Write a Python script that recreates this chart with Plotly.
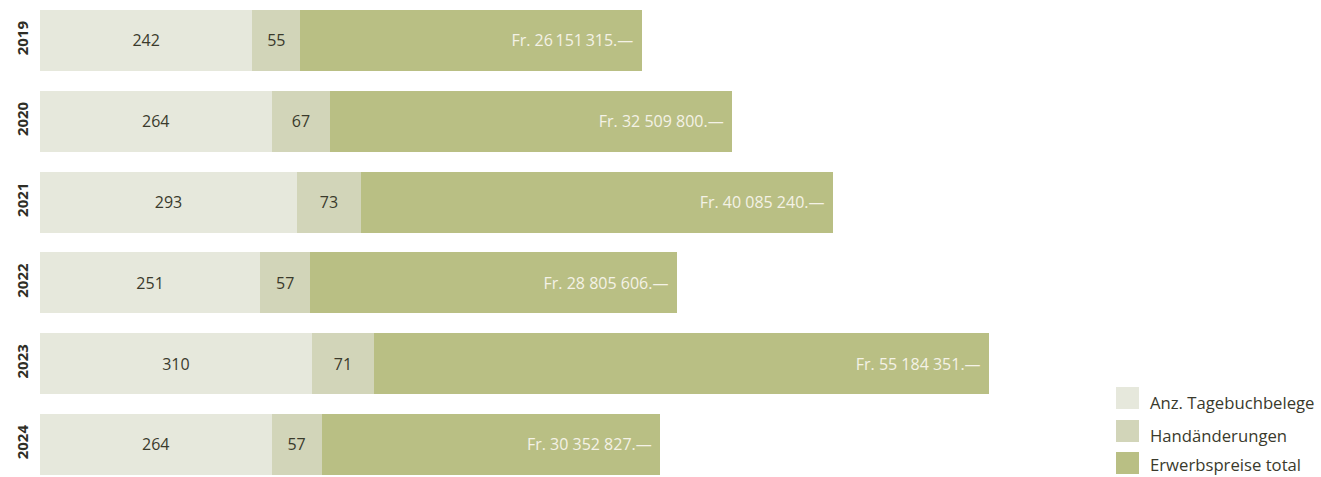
import plotly.graph_objects as go

# ---- data ----
years = ["2019", "2020", "2021", "2022", "2023", "2024"]
tagebuchbelege = [242, 264, 293, 251, 310, 264]
handaenderungen = [55, 67, 73, 57, 71, 57]
# bar length of the price segment as drawn (same axis units as the counts)
erwerbspreise_bar = [389, 458, 538, 418, 701, 386]
erwerbspreise_labels = [
    "Fr. 26\u2009151\u2009315.\u2014",
    "Fr. 32 509 800.\u2014",
    "Fr. 40 085 240.\u2014",
    "Fr. 28 805 606.\u2014",
    "Fr. 55 184 351.\u2014",
    "Fr. 30 352 827.\u2014",
]
series_names = ["Anz. Tagebuchbelege", "Handänderungen", "Erwerbspreise total"]
colors = ["#e6e8dc", "#d2d5b9", "#b9bf84"]

FONT = "Open Sans"
DARK = "#3a3a2c"
W, H = 1321, 477
ML = 40
PX_PER_UNIT = 0.877
BAND_PX = 80.8

fig = go.Figure()
fig.add_trace(go.Bar(
    y=years, x=tagebuchbelege, orientation="h", name=series_names[0],
    marker=dict(color=colors[0], line=dict(width=0)), width=0.755,
    text=[str(v) for v in tagebuchbelege], textposition="inside",
    insidetextanchor="middle", textangle=0,
    textfont=dict(family=FONT, size=16, color=DARK), showlegend=False,
))
fig.add_trace(go.Bar(
    y=years, x=handaenderungen, orientation="h", name=series_names[1],
    marker=dict(color=colors[1], line=dict(width=0)), width=0.755,
    text=[str(v) for v in handaenderungen], textposition="inside",
    insidetextanchor="middle", textangle=0,
    textfont=dict(family=FONT, size=16, color=DARK), showlegend=False,
))
fig.add_trace(go.Bar(
    y=years, x=erwerbspreise_bar, orientation="h", name=series_names[2],
    marker=dict(color=colors[2], line=dict(width=0)), width=0.755,
    text=[t + "\u2009\u2009" for t in erwerbspreise_labels], textposition="inside",
    insidetextanchor="end", textangle=0,
    textfont=dict(family=FONT, size=16, color="#f4f2e6"), showlegend=False,
))

# custom legend (swatches + labels) at the lower right
plot_w = W - ML
def px_x(p):
    return (p - ML) / plot_w
def px_y(p):
    return 1 - p / H

shapes = []
annotations = []
legend_tops = [387, 420, 452]
for name, col, top in zip(series_names, colors, legend_tops):
    shapes.append(dict(type="rect", xref="paper", yref="paper",
                       x0=px_x(1116), x1=px_x(1139), y0=px_y(top + 22), y1=px_y(top),
                       fillcolor=col, line=dict(width=0), layer="above"))
    text_y = min(top + 15, H - 13)
    annotations.append(dict(xref="paper", yref="paper", x=px_x(1148), y=px_y(text_y),
                            xanchor="left", yanchor="middle", text=name, showarrow=False,
                            font=dict(family=FONT, size=16.7, color=DARK)))

fig.update_layout(
    width=W, height=H,
    margin=dict(l=ML, r=0, t=0, b=0),
    barmode="stack",
    plot_bgcolor="white", paper_bgcolor="white",
    shapes=shapes, annotations=annotations,
    xaxis=dict(range=[0, plot_w / PX_PER_UNIT], visible=False, fixedrange=True),
    yaxis=dict(
        type="category", categoryorder="array", categoryarray=years,
        range=[-0.5 + H / BAND_PX, -0.5],
        showgrid=False, zeroline=False, showline=False, ticks="",
        tickangle=-90, ticklabelstandoff=8,
        tickfont=dict(family=FONT, size=15, color="#2e2e26", weight="bold"),
        fixedrange=True,
    ),
    font=dict(family=FONT),
)

fig.write_html("out.html", config={"displayModeBar": False},
               post_script="document.body.style.margin='0';")
